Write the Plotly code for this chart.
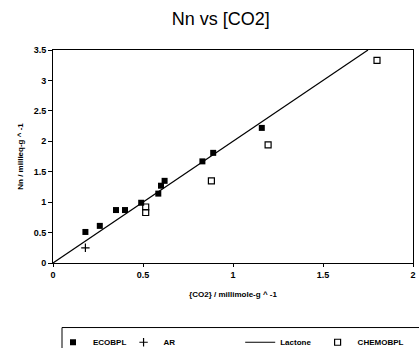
import plotly.graph_objects as go

ecobpl_x = [0.18, 0.26, 0.35, 0.40, 0.49, 0.585, 0.60, 0.62, 0.83, 0.89, 1.16]
ecobpl_y = [0.51, 0.61, 0.87, 0.87, 0.99, 1.14, 1.27, 1.35, 1.67, 1.81, 2.22]
ar_x = [0.18]
ar_y = [0.25]
lactone_x = [0.0, 1.75]
lactone_y = [0.0, 3.5]
chemo_x = [0.515, 0.515, 0.88, 1.195, 1.80]
chemo_y = [0.92, 0.83, 1.35, 1.94, 3.33]

x_ticks = [0, 0.5, 1, 1.5, 2]
x_labels = ["0", "0.5", "1", "1.5", "2"]
y_ticks = [0, 0.5, 1, 1.5, 2, 2.5, 3, 3.5]
y_labels = ["0", "0.5", "1", "1.5", "2", "2.5", "3", "3.5"]

FONT = "Liberation Sans"
LEG_FONT = dict(family=FONT, size=8, color="black", weight="bold")

fig = go.Figure()
fig.add_trace(go.Scatter(x=ecobpl_x, y=ecobpl_y, mode="markers", name="ECOBPL",
                         legend="legend",
                         marker=dict(symbol="square", size=6, color="black")))
fig.add_trace(go.Scatter(x=ar_x, y=ar_y, mode="markers", name="AR",
                         legend="legend2",
                         marker=dict(symbol="cross-thin", size=6, color="black",
                                     line=dict(color="black", width=1.2))))
fig.add_trace(go.Scatter(x=lactone_x, y=lactone_y, mode="lines", name="Lactone",
                         legend="legend3",
                         line=dict(color="black", width=1.2)))
fig.add_trace(go.Scatter(x=chemo_x, y=chemo_y, mode="markers", name="CHEMOBPL",
                         legend="legend4",
                         marker=dict(symbol="square-open", size=6, color="black",
                                     line=dict(color="black", width=1.2))))

def leg(x):
    return dict(orientation="h", x=x, y=-0.372, xanchor="left", yanchor="middle",
                font=LEG_FONT, bgcolor="rgba(0,0,0,0)", borderwidth=0)

fig.update_layout(
    width=419, height=348,
    margin=dict(l=53, r=6, t=50, b=85, autoexpand=False),
    paper_bgcolor="white", plot_bgcolor="white",
    title=dict(text="Nn vs [CO2]", x=0.527, xanchor="center", y=0.945, yanchor="middle",
               font=dict(family=FONT, size=18, color="black")),
    showlegend=True,
    legend=leg(0.0),
    legend2=leg(0.196),
    legend3=leg(0.52),
    legend4=leg(0.735),
)
fig.update_xaxes(range=[0, 2], tickvals=x_ticks, ticktext=x_labels,
                 showgrid=False, zeroline=False, showline=True, mirror=True,
                 linecolor="black", linewidth=1, ticks="outside", ticklen=3,
                 tickcolor="black", automargin=False,
                 tickfont=dict(family=FONT, size=9, color="black", weight="bold"),
                 title=dict(text="{CO2} / millimole-g ^ -1", standoff=12,
                            font=dict(family=FONT, size=8, color="black", weight="bold")))
fig.update_yaxes(range=[0, 3.5], tickvals=y_ticks, ticktext=y_labels,
                 showgrid=False, zeroline=False, showline=True, mirror=True,
                 linecolor="black", linewidth=1, ticks="outside", ticklen=4,
                 tickcolor="black", automargin=False,
                 tickfont=dict(family=FONT, size=9, color="black", weight="bold"),
                 title=dict(text="Nn / millieq-g ^ -1", standoff=8,
                            font=dict(family=FONT, size=8, color="black", weight="bold")))

fig.add_shape(type="rect", xref="paper", yref="paper",
              x0=0.025, x1=1.02, y0=-0.45, y1=-0.303,
              line=dict(color="black", width=1), fillcolor="rgba(0,0,0,0)")

fig.write_html("out.html")
